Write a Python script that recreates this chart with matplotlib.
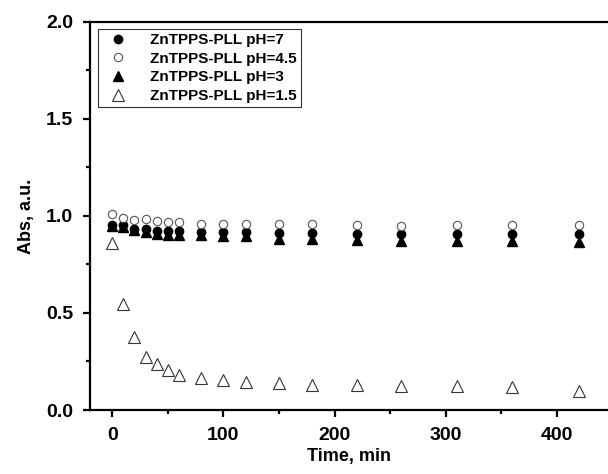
import matplotlib
matplotlib.use('Agg')
import matplotlib.pyplot as plt

plt.rcParams['font.family'] = ['Liberation Sans', 'DejaVu Sans']
plt.rcParams['font.weight'] = 'bold'

time = [0, 10, 20, 30, 40, 50, 60, 80, 100, 120, 150, 180, 220, 260, 310, 360, 420]

ph7 = [0.955, 0.952, 0.935, 0.935, 0.922, 0.922, 0.922, 0.918, 0.915, 0.915,
       0.912, 0.912, 0.908, 0.908, 0.907, 0.907, 0.907]
ph45 = [1.01, 0.991, 0.978, 0.983, 0.974, 0.969, 0.969, 0.958, 0.957, 0.957,
        0.956, 0.956, 0.952, 0.95, 0.952, 0.952, 0.952]
ph3 = [0.95, 0.944, 0.927, 0.918, 0.906, 0.901, 0.901, 0.90, 0.896, 0.896,
       0.88, 0.88, 0.875, 0.872, 0.872, 0.872, 0.867]
ph15 = [0.86, 0.544, 0.374, 0.272, 0.238, 0.204, 0.179, 0.165, 0.153, 0.144,
        0.139, 0.131, 0.128, 0.126, 0.126, 0.119, 0.098]

labels = ['ZnTPPS-PLL pH=7', 'ZnTPPS-PLL pH=4.5', 'ZnTPPS-PLL pH=3', 'ZnTPPS-PLL pH=1.5']

fig = plt.figure(figsize=(6.08, 4.74), dpi=100)
ax = fig.add_axes([0.148, 0.135, 0.852, 0.819])

ms = 6
ax.plot(time, ph7, 'o', color='black', ms=ms, label=labels[0])
ax.plot(time, ph45, 'o', mfc='white', mec='#555555', mew=0.8, ms=ms, label=labels[1])
ax.plot(time, ph3, '^', color='black', ms=ms + 1, label=labels[2])
ax.plot(time, ph15, '^', mfc='white', mec='#333333', mew=0.8, ms=ms + 2, label=labels[3])

ax.set_xlim(-20, 446)
ax.set_ylim(0, 2.0)
ax.set_xticks([0, 100, 200, 300, 400])
ax.set_xticks([50, 150, 250, 350], minor=True)
ax.set_yticks([0.0, 0.5, 1.0, 1.5, 2.0])
ax.set_yticks([0.25, 0.75, 1.25, 1.75], minor=True)
ax.set_yticklabels(['0.0', '0.5', '1.0', '1.5', '2.0'])

for s in ['left', 'bottom', 'top']:
    ax.spines[s].set_linewidth(1.6)
ax.spines['right'].set_visible(False)
ax.tick_params(which='major', direction='out', length=5, width=1.6, labelsize=14, pad=7)
ax.tick_params(which='minor', direction='out', length=3, width=1.6)
ax.tick_params(top=False, right=False)

ax.set_xlabel('Time, min', fontsize=13, fontweight='bold', labelpad=3)
ax.set_ylabel('Abs, a.u.', fontsize=13, fontweight='bold', labelpad=8)

leg = ax.legend(loc='upper left', fontsize=11, frameon=True, fancybox=False,
                edgecolor='black', handletextpad=1.0, borderpad=0.25,
                labelspacing=0.3, bbox_to_anchor=(0.0, 1.0), handlelength=2.2)
leg.get_frame().set_linewidth(0.8)
for t in leg.get_texts():
    t.set_fontweight('bold')

plt.savefig('out.png', dpi=100)
